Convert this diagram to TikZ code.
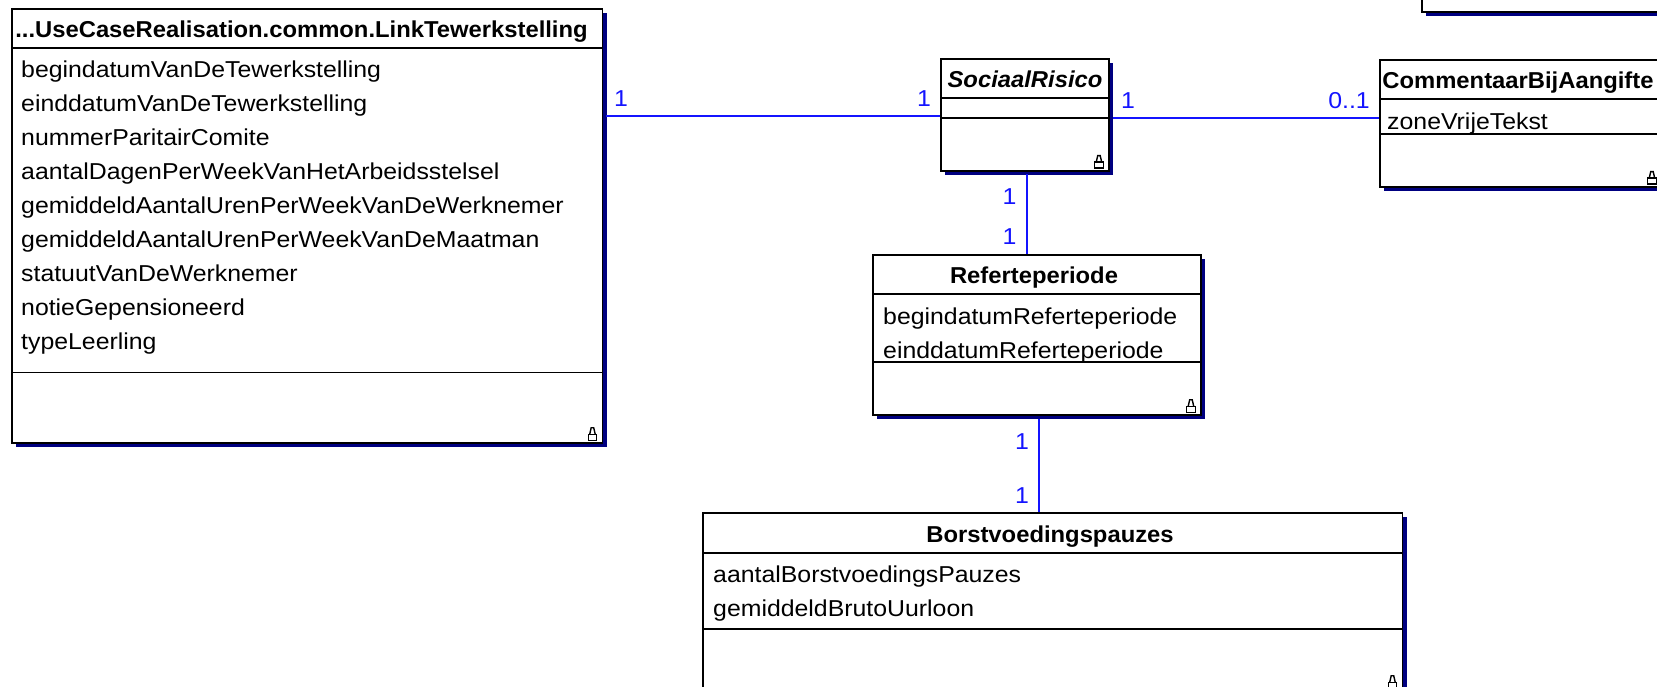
\documentclass[tikz,border=0pt]{standalone}
\usepackage{fontspec}
\setmainfont{Liberation Sans}[FakeStretch=1.08]
\newfontfamily\umltitlefont{Liberation Sans}[FakeStretch=1.035]
\usetikzlibrary{shadows}
\definecolor{umlshadow}{RGB}{0,0,128}
\definecolor{umlblue}{RGB}{20,20,255}
\tikzset{
  x=1pt,y=-1pt,
  classbox/.style={draw=black,line width=1.7pt,fill=white,anchor=north west,inner sep=0pt,
    drop shadow={shadow xshift=4.5pt,shadow yshift=-4.5pt,fill=umlshadow,opacity=1}},
  classtitle/.style={anchor=base,inner sep=0pt,font=\umltitlefont\fontsize{23}{23}\selectfont\bfseries},
  classattrs/.style={anchor=north west,inner sep=0pt,align=left,font=\fontsize{23}{34}\selectfont},
  divider/.style={line width=1.7pt,black},
  assoc/.style={line width=1.5pt,umlblue},
  mult/.style={inner sep=0pt,text=umlblue,font=\fontsize{23}{23}\selectfont},
  lockbody/.style={line width=1.4pt,black},
}
\newcommand{\umllock}[1]{%
  \draw[lockbody] ([xshift=-15pt,yshift=3.5pt]#1.south east) rectangle ([xshift=-6.5pt,yshift=9.5pt]#1.south east);
  \draw[lockbody] ([xshift=-13.5pt,yshift=9.5pt]#1.south east) -- ([xshift=-12pt,yshift=16pt]#1.south east) -- ([xshift=-9.5pt,yshift=16pt]#1.south east) -- ([xshift=-8pt,yshift=9.5pt]#1.south east);
}
\newcommand{\umldiv}[2]{\draw[divider] ([yshift=-#2pt]#1.north west) -- ([yshift=-#2pt]#1.north east);}
\begin{document}
\begin{tikzpicture}
\clip (0,0) rectangle (1657,687);
\useasboundingbox (0,0) rectangle (1657,687);
\fill[white] (0,0) rectangle (1657,687);

\node[classbox,minimum width=590.5pt,minimum height=434pt] (link) at (11,8) {};
\node[classbox,minimum width=168pt,minimum height=112pt] (risico) at (940,58) {};
\node[classbox,minimum width=282pt,minimum height=127pt] (comment) at (1379,59) {};
\node[classbox,minimum width=260pt,minimum height=51pt] (top) at (1421,-40) {};
\node[classbox,minimum width=328pt,minimum height=160pt] (refer) at (872,254) {};
\node[classbox,minimum width=699.5pt,minimum height=178pt] (borst) at (702,512) {};

\umldiv{link}{40} \umldiv{link}{364.5}
\umldiv{risico}{40} \umldiv{risico}{60}
\umldiv{comment}{40} \umldiv{comment}{75}
\umldiv{refer}{40} \umldiv{refer}{108}
\umldiv{borst}{41} \umldiv{borst}{117}

\umllock{link} \umllock{risico} \umllock{comment} \umllock{refer} \umllock{borst}

\node[classtitle] (linkT) at (301.5,38) {...UseCaseRealisation.common.LinkTewerkstelling};
\node[classtitle,font=\umltitlefont\fontsize{23}{23}\selectfont\bfseries\itshape] (risicoT) at (1025,88) {SociaalRisico};
\node[classtitle] (commentT) at (1518,89) {CommentaarBijAangifte};
\node[classtitle] (referT) at (1034,283) {Referteperiode};
\node[classtitle] (borstT) at (1050,542) {Borstvoedingspauzes};

\node[classattrs] (linkA) at (21,60.5) {begindatumVanDeTewerkstelling\\einddatumVanDeTewerkstelling\\nummerParitairComite\\aantalDagenPerWeekVanHetArbeidsstelsel\\gemiddeldAantalUrenPerWeekVanDeWerknemer\\gemiddeldAantalUrenPerWeekVanDeMaatman\\statuutVanDeWerknemer\\notieGepensioneerd\\typeLeerling};
\node[classattrs] (commentA) at (1387,113) {zoneVrijeTekst};
\node[classattrs] (referA) at (883,307.5) {begindatumReferteperiode\\einddatumReferteperiode};
\node[classattrs] (borstA) at (713,565.5) {aantalBorstvoedingsPauzes\\gemiddeldBrutoUurloon};

\coordinate (linkR) at (606,116);
\coordinate (risicoL) at (940,116);
\coordinate (risicoR) at (1113,118);
\coordinate (commentL) at (1379,118);
\coordinate (risicoB) at (1027,174.5);
\coordinate (referT1) at (1027,254);
\coordinate (referB) at (1039,418.5);
\coordinate (borstT1) at (1039,512);
\draw[assoc] (linkR) -- (risicoL);
\draw[assoc] (risicoR) -- (commentL);
\draw[assoc] (risicoB) -- (referT1);
\draw[assoc] (referB) -- (borstT1);

\node[mult] (m1) at (621,99) {1};
\node[mult] (m2) at (924,99) {1};
\node[mult] (m3) at (1128,101) {1};
\node[mult] (m4) at (1349,101) {0..1};
\node[mult] (m5) at (1009.5,197) {1};
\node[mult] (m6) at (1009.5,237) {1};
\node[mult] (m7) at (1022,442) {1};
\node[mult] (m8) at (1022,496) {1};
\end{tikzpicture}
\end{document}
